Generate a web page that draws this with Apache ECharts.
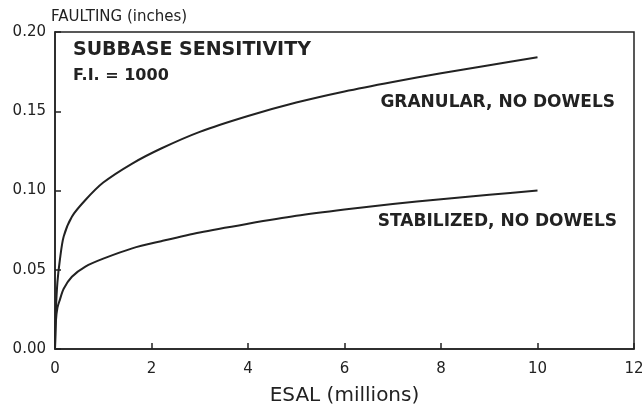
<!DOCTYPE html>
<html lang="en">
<head>
    <meta charset="UTF-8">
    <title>Subbase sensitivity</title>
    <style>
        body { margin: 0; background: #fff; }
        #main { width: 642px; height: 415px; }
    </style>
</head>
<body>
    <div id="main"></div>
    <script src="https://cdn.jsdelivr.net/npm/echarts@6/dist/echarts.min.js"></script>
    <script>
        // ESAL (millions)
        let esal = [0, 0.02, 0.05, 0.1, 0.18, 0.35, 0.63, 1, 1.6, 2.2, 3, 4, 5, 6, 7, 8, 9, 10];
        // faulting (inches)
        let granular = [0, 0.025, 0.042, 0.056, 0.071, 0.0835, 0.094, 0.105, 0.117, 0.1265, 0.137, 0.147, 0.1555, 0.1625, 0.1685, 0.174, 0.179, 0.184];
        let stabilized = [0, 0.018, 0.026, 0.031, 0.038, 0.0456, 0.052, 0.057, 0.0635, 0.068, 0.0735, 0.079, 0.084, 0.088, 0.0915, 0.0945, 0.0973, 0.100];

        let font = '"DejaVu Sans", sans-serif';
        let ink = '#222';

        var myChart = echarts.init(document.getElementById('main'));

        option = {
            animation: false,
            backgroundColor: '#fff',
            grid: {
                left: 55,
                right: 8,
                top: 32,
                bottom: 66,
                outerBoundsMode: 'none',
                show: true,
                borderColor: ink,
                borderWidth: 1.5
            },
            xAxis: {
                type: 'value',
                min: 0,
                max: 12,
                interval: 2,
                name: 'ESAL (millions)',
                nameLocation: 'middle',
                nameGap: 37,
                nameTextStyle: { fontFamily: font, fontSize: 20, color: ink },
                axisLine: { lineStyle: { color: ink, width: 1.5 } },
                axisTick: { inside: true, length: 6, lineStyle: { color: ink, width: 1.5 } },
                axisLabel: { fontFamily: font, fontSize: 15, color: ink, margin: 13 },
                splitLine: { show: false }
            },
            yAxis: {
                type: 'value',
                min: 0,
                max: 0.2,
                interval: 0.05,
                name: 'FAULTING (inches)',
                nameLocation: 'end',
                nameGap: 7,
                nameTextStyle: { fontFamily: font, fontSize: 15, color: ink, align: 'left', padding: [0, 0, 0, -4] },
                axisLine: { lineStyle: { color: ink, width: 1.5 } },
                axisTick: { inside: true, length: 6, lineStyle: { color: ink, width: 1.5 } },
                axisLabel: {
                    fontFamily: font, fontSize: 15, color: ink, margin: 9,
                    formatter: v => v.toFixed(2)
                },
                splitLine: { show: false }
            },
            graphic: [{
                type: 'text', left: 73, top: 41,
                style: { text: 'SUBBASE SENSITIVITY', font: 'bold 19px ' + font, fill: ink }
            }, {
                type: 'text', left: 73, top: 68,
                style: { text: 'F.I. = 1000', font: 'bold 16px ' + font, fill: ink }
            }, {
                type: 'text', right: 27, top: 94,
                style: { text: 'GRANULAR, NO DOWELS', font: 'bold 17px ' + font, fill: ink }
            }, {
                type: 'text', right: 25, top: 213,
                style: { text: 'STABILIZED, NO DOWELS', font: 'bold 17px ' + font, fill: ink }
            }],
            series: [{
                name: 'GRANULAR, NO DOWELS',
                type: 'line',
                data: esal.map((x, i) => [x, granular[i]]),
                smooth: 0.3,
                showSymbol: false,
                lineStyle: { color: ink, width: 2 }
            }, {
                name: 'STABILIZED, NO DOWELS',
                type: 'line',
                data: esal.map((x, i) => [x, stabilized[i]]),
                smooth: 0.3,
                showSymbol: false,
                lineStyle: { color: ink, width: 2 }
            }]
        };
        myChart.setOption(option);
    </script>
</body>
</html>
